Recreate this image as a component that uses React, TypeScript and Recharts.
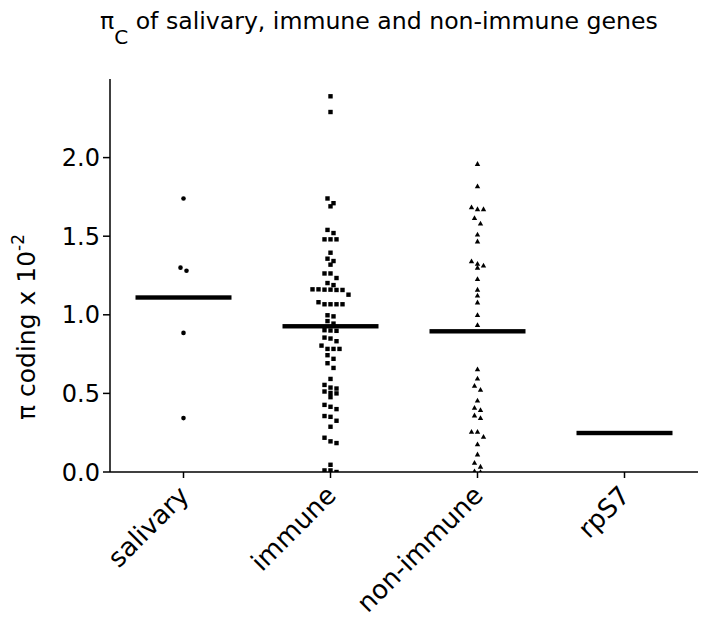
import React from 'react';
import { ScatterChart, Scatter, XAxis, YAxis } from 'recharts';

const categories = ['salivary', 'immune', 'non-immune', 'rpS7'];
const yTicks = [0, 0.5, 1.0, 1.5, 2.0];

const salivaryValues = [1.74, 1.3, 1.28, 0.885, 0.343];

const immuneValues = [
  2.39, 2.29, 1.74, 1.71, 1.69, 1.54, 1.52, 1.48, 1.48, 1.48, 1.395, 1.357, 1.342, 1.319,
  1.263, 1.263, 1.234, 1.202, 1.189, 1.162, 1.16, 1.158, 1.158, 1.16, 1.162, 1.128, 1.08,
  1.067, 1.067, 1.067, 1.067, 0.997, 0.99, 0.96, 0.944, 0.902, 0.9, 0.898, 0.855, 0.849,
  0.832, 0.804, 0.783, 0.783, 0.783, 0.743, 0.72, 0.692, 0.662, 0.592, 0.554, 0.537, 0.531,
  0.512, 0.503, 0.5, 0.476, 0.427, 0.415, 0.4, 0.356, 0.351, 0.326, 0.288, 0.218, 0.195,
  0.184, 0.046, 0.01, 0.01, 0.0,
];

const nonImmuneValues = [
  1.96, 1.818, 1.684, 1.672, 1.672, 1.615, 1.581, 1.511, 1.467, 1.34, 1.325, 1.314, 1.3,
  1.228, 1.16, 1.122, 1.079, 0.999, 0.935, 0.654, 0.595, 0.548, 0.523, 0.455, 0.408, 0.394,
  0.36, 0.343, 0.256, 0.256, 0.224, 0.176, 0.112, 0.059, 0.034, 0.005, 0.0,
];

const medianValues = [1.11, 0.927, 0.895, 0.248];

const FONT = 'DejaVu Sans, sans-serif';
const ROW_GAP = 0.035;
const STEP = 6;

type Pt = { x: number; y: number; slot: number };

function swarm(values: number[], cat: number): Pt[] {
  const sorted = [...values].sort((a, b) => b - a);
  const rows: number[][] = [];
  for (const v of sorted) {
    const row = rows[rows.length - 1];
    if (row && row[0] - v < ROW_GAP) row.push(v);
    else rows.push([v]);
  }
  const out: Pt[] = [];
  rows.forEach((row) =>
    row.forEach((v, i) => out.push({ x: cat, y: v, slot: i - (row.length - 1) / 2 }))
  );
  return out;
}

const salivaryData = swarm(salivaryValues, 1);
const immuneData = swarm(immuneValues, 2);
const nonImmuneData = swarm(nonImmuneValues, 3);
const medianData = medianValues.map((v, i) => ({ x: i + 1, y: v, slot: 0 }));

const CircleShape = (p: any) => (
  <circle cx={p.cx + p.payload.slot * STEP} cy={p.cy} r={2.3} fill="#000" />
);
const SquareShape = (p: any) => (
  <rect x={p.cx + p.payload.slot * STEP - 2.2} y={p.cy - 2.2} width={4.4} height={4.4} fill="#000" />
);
const TriangleShape = (p: any) => {
  const cx = p.cx + p.payload.slot * STEP;
  const cy = p.cy;
  return (
    <polygon
      points={`${cx},${cy - 2.8} ${cx - 2.7},${cy + 2} ${cx + 2.7},${cy + 2}`}
      fill="#000"
    />
  );
};
const MedianShape = (p: any) => (
  <rect x={p.cx - 48} y={p.cy - 2.2} width={96} height={4.4} fill="#000" />
);

const XTick = (props: any) => {
  const { x, y, payload } = props;
  const label = categories[Math.round(payload.value) - 1] ?? '';
  const ax = x + 7;
  const ay = y + 17;
  return (
    <text
      x={ax}
      y={ay}
      transform={`rotate(-45, ${ax}, ${ay})`}
      textAnchor="end"
      fontSize={26}
      fontFamily={FONT}
      fill="#000"
    >
      {label}
    </text>
  );
};

export default function App() {
  return (
    <div style={{ position: 'absolute', left: 0, top: 0, width: 706, height: 625, background: '#fff' }}>
      <ScatterChart width={706} height={625} margin={{ top: 79, right: 8, bottom: 0, left: 0 }}>
        <XAxis
          type="number"
          dataKey="x"
          domain={[0.5, 4.5]}
          ticks={[1, 2, 3, 4]}
          height={153}
          tickSize={6}
          axisLine={{ stroke: '#000', strokeWidth: 1.5 }}
          tickLine={{ stroke: '#000', strokeWidth: 1.5 }}
          tick={<XTick />}
          interval={0}
        />
        <YAxis
          type="number"
          dataKey="y"
          domain={[0, 2.5]}
          ticks={yTicks}
          width={110}
          tickSize={7}
          tickMargin={3}
          tickFormatter={(v: number) => v.toFixed(1)}
          axisLine={{ stroke: '#000', strokeWidth: 1.5 }}
          tickLine={{ stroke: '#000', strokeWidth: 1.5 }}
          tick={{ fill: '#000', fontSize: 24, fontFamily: FONT }}
          allowDataOverflow
        />
        <Scatter data={salivaryData} shape={CircleShape} isAnimationActive={false} />
        <Scatter data={immuneData} shape={SquareShape} isAnimationActive={false} />
        <Scatter data={nonImmuneData} shape={TriangleShape} isAnimationActive={false} />
        <Scatter data={medianData} shape={MedianShape} isAnimationActive={false} />
      </ScatterChart>
      <svg
        width={706}
        height={625}
        style={{ position: 'absolute', left: 0, top: 0, pointerEvents: 'none' }}
      >
        <text x={100} y={29} fontFamily={FONT} fontSize={23.6} fill="#000">
          <tspan>π</tspan>
          <tspan fontSize={20} dy={15}>C</tspan>
          <tspan dy={-15}> of salivary, immune and non-immune genes</tspan>
        </text>
        <text
          x={35}
          y={420}
          transform="rotate(-90, 35, 420)"
          fontFamily={FONT}
          fontSize={25}
          fill="#000"
        >
          π coding x 10<tspan fontSize={17} dy={-11}>-2</tspan>
        </text>
      </svg>
    </div>
  );
}
